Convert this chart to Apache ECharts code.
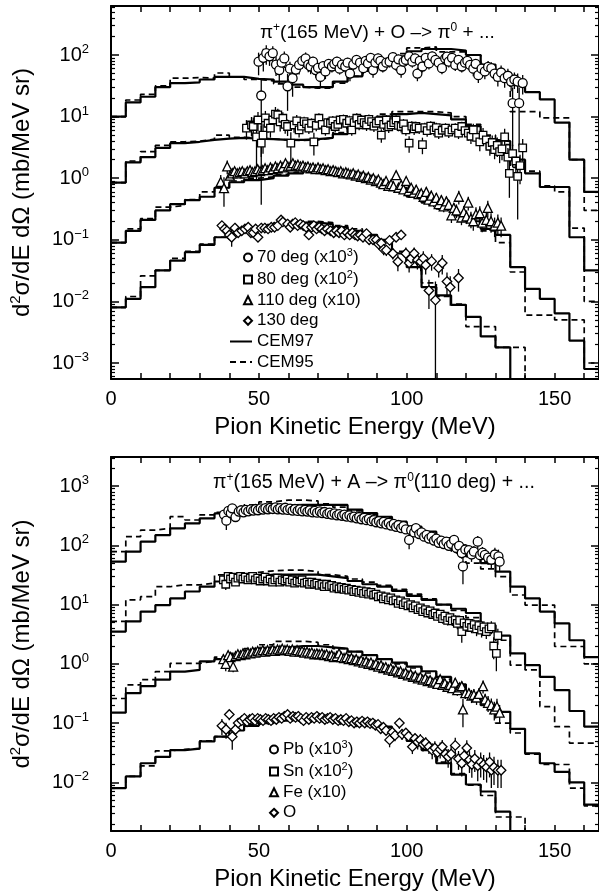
<!DOCTYPE html>
<html><head><meta charset="utf-8">
<script src="https://cdn.jsdelivr.net/npm/echarts@6/dist/echarts.min.js"></script>
<style>html,body{margin:0;padding:0;background:#fff}#c{width:599px;height:894px}</style>
</head><body><div id="c"></div><script>
const FONT = '"Liberation Sans", Arial, Helvetica, sans-serif';

// ---------- axes ----------
const binEdges = [0,5,10,15,20,25,30,35,40,45,50,55,60,65,70,75,80,85,90,95,100,105,110,115,120,125,130,135,140,145,150,155,160,165];
const xTickValues = [0,10,20,30,40,50,60,70,80,90,100,110,120,130,140,150,160];
const xLabelValues = [0,50,100,150];
const topDecades = [-3,-2,-1,0,1,2];
const bottomDecades = [-2,-1,0,1,2,3];
const topRange = [5.5e-4, 624];
const bottomRange = [1.51e-3, 3090];
const xTitle = 'Pion Kinetic Energy (MeV)';
const topNote = ['π','+','(165 MeV) + O –> π','0',' + ...'];
const bottomNote = ['π','+','(165 MeV) + A –> π','0','(110 deg) + ...'];

// ---------- top panel: model histograms (5 MeV bins) ----------
const t70_97 = [10,17,21,30,35,36,40,44,44,41,40,37,33,30,30,37,45,55,74,95,115,125,125,118,100,70,50,40,25,19,8,2,0.6];
const t70_95 = [10,18.6,23,31.5,42,43,42,51,44,40,38,34,30,29,29,35,45,58,80,105,130,135,112,112,100,55,47,12,12,9.5,9.5,2,0.3];
const t80_97 = [0.85,1.8,2.2,3.1,3.7,3.9,4.2,4.4,4.5,4.4,4.3,4.2,4.2,4.3,4.5,5.2,6.5,8.5,10,11,11.5,11,10.5,9,7,4.2,4,2,1.2,0.72,0.72,0.11,0.032];
const t80_95 = [0.85,1.9,2.7,3.4,3.9,4.0,4.3,5.0,4.6,4.5,4.3,4.2,4.1,4.2,4.5,5.5,7,9,11,12,12,12,11.5,10,7.5,5,3.5,1.5,1.3,0.75,0.6,0.155,0.01];
const t110_97 = [0.09,0.14,0.21,0.3,0.38,0.44,0.5,0.7,0.86,0.93,1.0,1.1,1.2,1.3,1.3,1.2,1.1,0.95,0.8,0.65,0.5,0.4,0.32,0.25,0.2,0.15,0.12,0.036,0.016,0.011,0.0064,0.0023,0.0008];
const t110_95 = [0.09,0.15,0.22,0.34,0.36,0.45,0.6,0.7,0.9,1.0,1.05,1.15,1.25,1.35,1.35,1.25,1.15,1.0,0.85,0.7,0.55,0.42,0.33,0.26,0.19,0.14,0.09,0.03,0.006,0.006,0.005,0.005,0.001];
const t130_97 = [0.008,0.011,0.017,0.032,0.046,0.063,0.083,0.11,0.13,0.15,0.16,0.18,0.19,0.19,0.18,0.16,0.14,0.12,0.1,0.06,0.036,0.017,0.0125,0.0088,0.0056,0.0027,0.0018,1e-6,1e-6,1e-6,1e-6,1e-6,1e-6];
const t130_95 = [0.008,0.012,0.026,0.032,0.05,0.065,0.085,0.11,0.135,0.16,0.17,0.19,0.2,0.2,0.19,0.17,0.15,0.12,0.095,0.065,0.04,0.02,0.012,0.009,0.0039,0.0039,0.0018,0.0018,1e-6,1e-6,1e-6,1e-6,1e-6];

// ---------- top panel: data [E, value, relative error] ----------
const d70 = [[49.9,78,0.4],[50.8,22,0.9],[51.5,90,0.4],[52.5,107,0.35],[53.6,95,0.3],[54.7,107,0.3],[55.8,70,0.35],[56.9,57,0.4],[57.7,75,0.3],[58.6,88,0.3],[59.7,31,0.6],[60.5,60,0.3],[61.4,42,0.5],[62.5,58,0.3],[63.6,69,0.3],[64.7,80,0.25],[65.8,88,0.25],[66.7,70,0.25],[67.5,65,0.25],[68.3,78,0.2],[69.2,57,0.25],[70.0,62,0.2],[70.8,44,0.3],[71.7,66,0.2],[72.5,54,0.25],[73.6,72,0.2],[74.7,65,0.2],[75.5,72,0.2],[76.4,78,0.2],[77.3,60,0.2],[78.1,70,0.2],[79.2,65,0.2],[80.0,75,0.2],[80.8,50,0.25],[81.9,70,0.2],[83.0,83,0.2],[84.2,75,0.2],[85.3,61,0.2],[86.1,80,0.2],[86.9,73,0.2],[87.8,90,0.2],[88.6,57,0.25],[89.4,75,0.2],[90.3,88,0.2],[91.1,80,0.2],[91.9,65,0.2],[93.1,75,0.2],[94.2,78,0.2],[95.3,92,0.2],[96.4,69,0.2],[97.2,85,0.2],[98.1,57,0.25],[98.9,78,0.2],[99.7,83,0.2],[100.8,95,0.2],[101.9,78,0.2],[102.8,88,0.2],[103.6,50,0.25],[104.4,80,0.2],[105.3,65,0.2],[106.4,90,0.2],[107.5,73,0.2],[108.6,95,0.2],[109.7,83,0.2],[110.8,75,0.2],[111.9,61,0.2],[113.0,88,0.2],[113.6,94,0.2],[114.2,78,0.2],[115.3,90,0.2],[116.4,69,0.2],[117.5,83,0.2],[118.6,65,0.2],[119.7,75,0.2],[120.5,80,0.2],[121.4,69,0.2],[122.5,60,0.25],[123.3,72,0.2],[124.2,47,0.25],[125.3,60,0.25],[126.4,54,0.25],[127.5,64,0.25],[128.6,61,0.25],[129.7,50,0.25],[130.8,44,0.3],[131.9,52,0.3],[133.1,42,0.3],[134.2,46,0.3],[135.3,37,0.3],[135.8,16.5,0.8],[136.4,40,0.3],[137.5,37,0.35],[138.0,16.5,0.8],[139.2,35,0.35]];
const d80 = [[45.8,6.5,0.35],[47.5,7.3,0.35],[48.1,6.9,0.4],[49.2,4.7,0.8],[49.7,8.8,0.35],[50.8,3.7,0.9],[51.4,5.0,0.5],[52.2,9.5,0.3],[53.1,7.8,0.3],[53.9,6.5,0.3],[54.7,8.8,0.3],[55.6,11,0.3],[56.4,10.7,0.25],[57.2,8.2,0.3],[58.1,9.4,0.25],[58.9,7.5,0.3],[59.7,6.9,0.3],[60.8,3.7,0.5],[61.9,7.3,0.25],[62.8,8.5,0.25],[63.6,6.1,0.25],[64.4,7.0,0.25],[65.3,8.3,0.2],[66.1,7.6,0.2],[66.9,6.5,0.2],[67.8,7.8,0.2],[68.6,3.9,0.4],[69.4,7.2,0.2],[70.3,9.4,0.2],[71.4,7.5,0.2],[72.5,6.1,0.2],[73.3,8.0,0.2],[74.2,7.8,0.2],[75.0,8.5,0.2],[75.8,6.9,0.2],[76.7,7.5,0.2],[77.5,8.8,0.2],[78.6,9.0,0.2],[79.7,7.8,0.2],[80.6,8.6,0.2],[81.4,6.1,0.2],[82.2,8.0,0.2],[83.1,9.4,0.2],[83.9,7.5,0.2],[84.7,8.8,0.2],[85.6,8.0,0.2],[86.4,7.3,0.2],[87.2,9.0,0.2],[88.1,8.3,0.2],[88.9,7.0,0.2],[89.7,7.8,0.2],[90.6,8.5,0.2],[91.4,5.0,0.25],[92.2,7.5,0.2],[93.1,8.8,0.2],[93.9,6.8,0.2],[94.7,7.3,0.2],[95.6,8.0,0.2],[96.4,8.8,0.2],[97.2,7.2,0.2],[98.1,6.9,0.2],[98.9,7.6,0.2],[99.7,6.1,0.2],[100.8,3.7,0.3],[101.7,7.0,0.2],[102.5,6.3,0.2],[103.1,6.9,0.2],[104.2,6.5,0.2],[105.3,3.5,0.3],[106.1,6.6,0.2],[106.9,5.9,0.2],[108.1,7.0,0.2],[109.2,6.1,0.2],[110.0,6.6,0.2],[110.8,5.4,0.2],[112.0,6.0,0.2],[113.1,6.5,0.2],[114.2,5.6,0.2],[115.3,6.1,0.2],[116.4,6.5,0.2],[117.5,5.4,0.2],[118.6,6.9,0.2],[119.7,5.9,0.2],[120.8,5.4,0.25],[121.7,4.8,0.25],[122.5,6.1,0.25],[123.6,4.6,0.25],[124.7,3.9,0.3],[125.8,5.0,0.3],[126.9,4.2,0.3],[128.1,3.3,0.3],[128.9,3.8,0.3],[129.7,2.9,0.3],[130.6,3.4,0.35],[131.4,2.7,0.35],[132.2,3.0,0.35],[133.1,4.7,0.35],[134.2,2.2,0.4],[134.7,1.2,0.6],[135.8,2.5,0.4],[136.9,1.9,0.5],[137.5,1.07,0.8],[138.3,1.6,0.5],[139.2,3.1,0.4]];
const d110 = [[37.1,0.87,0.3],[38.2,0.69,0.5],[39.3,1.55,0.25],[40.2,1.1,0.2],[41.0,1.2,0.2],[41.8,1.3,0.15],[42.7,1.2,0.15],[43.5,1.25,0.15],[44.4,1.3,0.15],[45.3,1.2,0.15],[46.1,1.3,0.15],[47.0,1.35,0.15],[47.8,1.25,0.15],[48.7,1.3,0.15],[49.6,1.4,0.15],[50.4,1.3,0.15],[51.3,1.35,0.12],[52.1,1.45,0.12],[53.0,1.35,0.12],[53.9,1.5,0.12],[54.7,1.4,0.12],[55.6,1.55,0.12],[56.4,1.45,0.12],[57.3,1.6,0.12],[58.1,1.5,0.12],[59.0,1.75,0.12],[59.8,1.55,0.12],[60.7,1.6,0.12],[61.5,1.75,0.12],[62.4,1.6,0.12],[63.2,1.65,0.12],[64.1,1.55,0.12],[64.9,1.6,0.12],[65.8,1.5,0.12],[66.6,1.55,0.12],[67.5,1.45,0.12],[68.3,1.5,0.12],[69.2,1.4,0.12],[70.0,1.5,0.12],[70.9,1.4,0.12],[71.7,1.45,0.12],[72.6,1.35,0.12],[73.4,1.4,0.12],[74.3,1.3,0.12],[75.1,1.35,0.12],[76.0,1.3,0.12],[76.8,1.25,0.12],[77.7,1.3,0.12],[78.5,1.2,0.12],[79.4,1.25,0.12],[80.2,1.2,0.12],[81.1,1.15,0.12],[81.9,1.2,0.12],[82.8,1.1,0.12],[83.6,1.15,0.12],[84.5,1.05,0.12],[85.3,1.1,0.12],[86.2,1.0,0.12],[87.0,1.05,0.12],[87.9,0.95,0.15],[88.7,1.0,0.15],[89.6,0.9,0.15],[90.4,0.95,0.15],[91.3,0.85,0.15],[92.1,0.8,0.15],[93.0,0.9,0.15],[93.8,0.75,0.15],[94.7,0.8,0.15],[95.5,0.74,0.15],[96.4,1.12,0.15],[97.2,0.7,0.15],[98.1,0.78,0.15],[98.9,0.66,0.15],[99.8,0.9,0.15],[100.6,0.62,0.15],[101.5,0.7,0.15],[102.3,0.58,0.18],[103.2,0.65,0.18],[104.0,0.55,0.18],[104.9,0.57,0.18],[105.7,0.5,0.18],[106.6,0.6,0.18],[107.4,0.45,0.2],[108.3,0.52,0.2],[109.1,0.42,0.2],[110.0,0.48,0.2],[110.8,0.38,0.2],[111.7,0.44,0.2],[112.5,0.35,0.2],[113.4,0.42,0.2],[114.2,0.37,0.2],[115.1,0.25,0.25],[115.9,0.33,0.2],[116.8,0.3,0.25],[117.6,0.5,0.25],[118.5,0.23,0.25],[119.3,0.28,0.25],[120.2,0.24,0.25],[120.8,0.4,0.25],[121.7,0.22,0.3],[122.5,0.2,0.3],[123.4,0.26,0.3],[124.7,0.27,0.3],[125.5,0.19,0.3],[126.9,0.21,0.3],[127.4,0.33,0.3],[128.5,0.2,0.35],[129.7,0.17,0.35],[130.8,0.19,0.35],[131.9,0.17,0.35]];
const d130 = [[37.5,0.17,0.15],[38.4,0.15,0.15],[39.2,0.14,0.15],[40.0,0.12,0.15],[40.8,0.11,0.3],[41.9,0.155,0.15],[43.0,0.13,0.15],[44.2,0.14,0.15],[45.3,0.15,0.12],[46.4,0.16,0.12],[47.3,0.13,0.12],[48.1,0.13,0.12],[48.9,0.15,0.12],[49.7,0.11,0.15],[50.8,0.155,0.12],[52.0,0.155,0.12],[53.1,0.15,0.12],[54.2,0.16,0.12],[55.3,0.16,0.12],[56.4,0.17,0.12],[57.5,0.21,0.12],[58.1,0.195,0.12],[59.7,0.18,0.12],[60.6,0.16,0.12],[61.4,0.18,0.12],[62.3,0.19,0.12],[63.1,0.17,0.12],[64.0,0.18,0.12],[65.0,0.17,0.12],[66.0,0.16,0.12],[66.9,0.12,0.12],[67.8,0.16,0.12],[68.6,0.17,0.12],[69.5,0.15,0.12],[70.4,0.16,0.12],[71.3,0.15,0.12],[72.2,0.14,0.12],[73.1,0.15,0.12],[74.2,0.14,0.12],[75.3,0.13,0.12],[76.2,0.14,0.12],[77.1,0.13,0.12],[78.0,0.14,0.12],[78.9,0.12,0.12],[79.8,0.13,0.12],[80.7,0.12,0.12],[81.6,0.13,0.12],[82.5,0.12,0.12],[83.4,0.115,0.12],[84.3,0.12,0.12],[85.2,0.11,0.12],[86.4,0.126,0.12],[87.3,0.1,0.15],[88.6,0.1,0.15],[89.7,0.1,0.15],[90.5,0.085,0.15],[91.4,0.088,0.15],[92.2,0.07,0.2],[93.1,0.068,0.2],[94.2,0.098,0.15],[95.3,0.06,0.2],[96.4,0.11,0.15],[97.0,0.044,0.3],[98.1,0.12,0.15],[99.7,0.06,0.25],[100.8,0.042,0.3],[101.5,0.05,0.25],[102.5,0.06,0.25],[103.6,0.047,0.3],[104.7,0.044,0.3],[105.6,0.05,0.3],[106.4,0.039,0.3],[107.5,0.015,0.5],[108.4,0.045,0.3],[109.7,0.0105,1.0],[110.8,0.035,0.3],[112.0,0.042,0.35],[113.6,0.021,0.4],[114.7,0.017,0.5],[117.5,0.024,0.4]];

// ---------- bottom panel: model histograms ----------
const pb_97 = [53,78,115,149,193,235,285,345,390,420,450,470,480,480,480,480,400,350,303,250,206,170,132,100,65,50,36,20,12.7,7.6,4.8,2.5,1.3];
const pb_95 = [78,140,181,193,304,267,325,360,420,480,540,580,580,560,500,440,380,330,290,240,190,150,110,80,50,40,29.5,14.5,9.8,9.8,1.96,1.96,1.0];
const sn_97 = [3.5,5.2,7.6,9.8,12.7,16.6,20,24.5,28,30,32,32,32,32,30,28,25,22,20,17,14,12,10,8.5,7.2,4.5,3,1.5,0.95,0.6,0.36,0.16,0.087];
const sn_95 = [5.2,12,13.6,20,21.5,21.5,23,31.6,33,35,37,38,38,36,32,30,27,24,21,18,15,12.5,10,8,6,4.5,2.5,0.95,0.79,0.19,0.087,0.046,0.046];
const fe_97 = [0.15,0.32,0.42,0.54,0.74,0.79,1.1,1.2,1.4,1.6,1.8,1.9,2.0,2.0,1.9,1.8,1.6,1.4,1.2,1.05,0.9,0.75,0.6,0.45,0.3,0.2,0.155,0.08,0.031,0.021,0.015,0.01,0.0042];
const fe_95 = [0.26,0.44,0.54,0.74,1.02,1.02,1.1,1.3,1.5,1.8,2.1,2.4,2.4,2.3,2.1,1.8,1.6,1.4,1.2,1.0,0.85,0.7,0.55,0.42,0.3,0.2,0.1,0.068,0.03,0.02,0.02,0.008,0.004];
const o_97 = [0.008,0.0126,0.021,0.027,0.035,0.037,0.049,0.059,0.075,0.09,0.1,0.11,0.12,0.12,0.12,0.115,0.105,0.095,0.087,0.065,0.05,0.035,0.021,0.0135,0.0092,0.007,0.0032,1e-6,1e-6,1e-6,1e-6,1e-6,1e-6];
const o_95 = [0.008,0.0126,0.019,0.034,0.036,0.037,0.05,0.059,0.08,0.095,0.11,0.12,0.125,0.125,0.12,0.115,0.105,0.095,0.085,0.065,0.05,0.035,0.022,0.014,0.009,0.006,0.0026,0.0026,1e-6,1e-6,1e-6,1e-6,1e-6];

// ---------- bottom panel: data [E, value, relative error] ----------
const dPb = [[38.2,330,.15],[39.0,260,.3],[39.7,380,.12],[40.5,350,.1],[41.0,420,.1],[42.1,300,.15],[43.2,370,.1],[44.0,390,.08],[44.8,360,.08],[45.6,395,.08],[46.4,375,.08],[47.3,405,.08],[48.1,385,.08],[48.9,410,.08],[49.7,390,.08],[50.6,420,.08],[51.4,400,.08],[52.2,425,.08],[53.1,405,.08],[53.9,430,.08],[54.7,410,.08],[55.6,435,.08],[56.4,405,.08],[57.2,425,.08],[58.1,400,.08],[58.9,430,.08],[59.7,395,.08],[60.6,415,.08],[61.4,385,.08],[62.2,410,.08],[63.1,380,.08],[63.9,405,.08],[64.7,375,.08],[65.6,395,.08],[66.4,370,.08],[67.2,390,.08],[68.1,360,.08],[68.9,380,.08],[69.7,355,.08],[70.6,375,.08],[71.4,350,.08],[72.2,365,.08],[73.1,340,.08],[73.9,355,.08],[74.7,330,.08],[75.6,345,.08],[76.4,320,.08],[77.2,335,.08],[78.1,315,.08],[78.9,330,.08],[79.7,305,.08],[80.6,320,.08],[81.4,295,.08],[82.2,305,.08],[83.1,285,.08],[83.9,300,.08],[84.7,275,.08],[85.6,290,.08],[86.4,265,.08],[87.2,280,.08],[88.1,255,.1],[88.9,265,.1],[89.7,245,.1],[90.6,255,.1],[91.4,235,.1],[92.2,248,.1],[93.1,225,.1],[93.9,240,.1],[94.7,215,.12],[95.6,230,.1],[96.4,205,.12],[97.2,220,.1],[98.1,195,.12],[98.9,210,.12],[99.7,185,.12],[100.8,123,.3],[101.5,180,.12],[102.5,165,.12],[103.1,195,.12],[104.2,155,.12],[105.0,165,.12],[105.9,140,.15],[106.7,150,.12],[107.5,130,.15],[108.4,140,.12],[109.2,120,.15],[110.0,130,.15],[110.8,110,.15],[111.7,120,.15],[112.5,105,.15],[113.4,115,.15],[114.2,98,.18],[115.0,106,.18],[116.0,123,.18],[116.8,90,.2],[117.7,98,.2],[118.6,74,.2],[119.0,44,.5],[119.8,85,.2],[121.0,83,.2],[121.9,70,.25],[122.7,78,.25],[124.0,115,.25],[124.8,68,.25],[125.6,75,.25],[126.4,69,.25],[127.5,62,.25],[128.6,57,.3],[129.8,70,.3],[131.0,65,.3],[131.4,53,.3]];
const dSn = [[38.0,26,.15],[38.8,22,.2],[39.6,30,.12],[40.4,27,.12],[41.3,29,.1],[42.1,24,.12],[42.9,28,.1],[43.8,30,.1],[44.6,27,.1],[45.4,29,.1],[46.3,26,.1],[47.1,28,.1],[47.9,30,.1],[48.8,26,.1],[49.6,28,.1],[50.4,25,.1],[51.3,27,.1],[52.1,29,.1],[52.9,25,.1],[53.8,27,.1],[54.6,24,.1],[55.4,26,.1],[56.3,28,.1],[57.1,24,.1],[57.9,26,.1],[58.8,25,.1],[59.6,27,.1],[60.4,24,.1],[61.3,26,.1],[62.1,23,.1],[62.9,25,.1],[63.8,24,.1],[64.6,26,.1],[65.4,23,.1],[66.3,24,.1],[67.1,22,.1],[67.9,24,.1],[68.8,22,.1],[69.6,23,.1],[70.4,21,.1],[71.3,22,.1],[72.1,20,.1],[72.9,22,.1],[73.8,20,.1],[74.6,21,.1],[75.4,19,.1],[76.3,20,.1],[77.1,18.5,.1],[77.9,19.5,.1],[78.8,18,.1],[79.6,19,.1],[80.4,17.5,.1],[81.3,18,.1],[82.1,16.5,.1],[82.9,17.5,.1],[83.8,16,.1],[84.6,17,.1],[85.4,15.5,.1],[86.3,16.5,.1],[87.1,15,.1],[87.9,16,.1],[88.8,14.5,.12],[89.6,15,.12],[90.4,13.5,.12],[91.3,14,.12],[92.1,12.5,.12],[92.9,13.5,.12],[93.8,12,.12],[94.6,13,.12],[95.4,11.5,.12],[96.3,12,.12],[97.1,10.5,.12],[97.9,11.5,.12],[98.8,10,.12],[99.6,10.8,.12],[100.4,9.5,.15],[101.3,10,.15],[102.1,8.8,.15],[102.9,9.5,.15],[103.8,8.2,.15],[104.6,8.8,.15],[105.4,7.6,.15],[106.3,8.2,.15],[107.1,7.2,.15],[107.9,7.8,.15],[108.8,6.8,.15],[109.6,7.2,.15],[110.4,6.3,.15],[111.3,6.9,.15],[112.1,5.8,.18],[112.9,6.4,.18],[113.8,5.4,.18],[114.6,6.0,.18],[115.4,5.3,.18],[116.4,5.5,.2],[117.1,4.8,.2],[117.9,5.4,.2],[118.6,3.5,.35],[119.4,4.9,.2],[120.3,4.3,.2],[121.1,4.8,.2],[121.9,4.1,.2],[122.8,4.6,.2],[123.6,3.9,.25],[124.4,4.4,.25],[125.3,3.7,.25],[126.1,4.2,.25],[126.9,3.5,.25],[127.8,3.9,.25],[128.6,4.2,.25],[129.4,2.0,.4],[130.3,1.5,.5],[130.8,3.0,.3]];
const dFe = [[38.0,1.2,.2],[38.8,1.0,.25],[39.6,1.4,.15],[40.4,1.3,.12],[41.3,0.9,.2],[42.1,1.35,.1],[42.9,1.45,.1],[43.8,1.4,.1],[44.6,1.5,.1],[45.4,1.45,.1],[46.3,1.55,.1],[47.1,1.5,.1],[47.9,1.6,.1],[48.8,1.55,.1],[49.6,1.65,.1],[50.4,1.6,.1],[51.3,1.7,.1],[52.1,1.6,.1],[52.9,1.7,.1],[53.8,1.65,.1],[54.6,1.75,.1],[55.4,1.65,.1],[56.3,1.75,.1],[57.1,1.7,.1],[57.9,1.8,.1],[58.8,1.7,.1],[59.6,1.75,.1],[60.4,1.65,.1],[61.3,1.75,.1],[62.1,1.6,.1],[62.9,1.7,.1],[63.8,1.6,.1],[64.6,1.65,.1],[65.4,1.55,.1],[66.3,1.6,.1],[67.1,1.5,.1],[67.9,1.55,.1],[68.8,1.45,.1],[69.6,1.5,.1],[70.4,1.45,.1],[71.3,1.5,.1],[72.1,1.4,.1],[72.9,1.45,.1],[73.8,1.35,.1],[74.6,1.4,.1],[75.4,1.3,.1],[76.3,1.35,.1],[77.1,1.5,.1],[77.9,1.3,.1],[78.8,1.25,.1],[79.6,1.3,.1],[80.4,1.2,.1],[81.3,1.25,.1],[82.1,1.15,.1],[82.9,1.2,.1],[83.8,1.1,.1],[84.6,1.15,.1],[85.4,1.05,.1],[86.3,1.1,.1],[87.1,1.0,.1],[87.9,1.05,.1],[88.8,0.95,.12],[89.6,1.0,.12],[90.4,0.9,.12],[91.3,0.95,.12],[92.1,0.85,.12],[92.9,0.88,.12],[93.8,0.8,.12],[94.6,0.84,.12],[95.4,0.76,.12],[96.3,0.8,.12],[97.1,0.72,.12],[97.9,0.75,.12],[98.8,0.68,.12],[99.6,0.71,.12],[100.4,0.64,.15],[101.3,0.67,.15],[102.1,0.6,.15],[102.9,0.63,.15],[103.8,0.57,.15],[104.6,0.6,.15],[105.4,0.54,.15],[106.3,0.57,.15],[107.1,0.51,.15],[107.9,0.53,.15],[108.8,0.48,.15],[109.6,0.5,.15],[110.4,0.46,.15],[111.3,0.55,.15],[112.1,0.44,.18],[112.9,0.47,.18],[113.8,0.41,.18],[114.6,0.44,.18],[115.4,0.39,.18],[116.4,0.48,.2],[117.1,0.36,.2],[117.9,0.4,.2],[118.6,0.42,.2],[119.0,0.17,.5],[119.8,0.32,.2],[121.0,0.32,.2],[121.9,0.29,.25],[122.7,0.3,.25],[123.6,0.27,.25],[124.4,0.31,.25],[125.8,0.42,.25],[126.5,0.25,.25],[127.5,0.22,.3],[128.6,0.2,.3],[129.6,0.17,.35],[130.5,0.19,.35],[131.4,0.15,.35]];
const dO = [[37.5,0.09,.3],[38.9,0.078,.3],[40.0,0.14,.2],[41.0,0.059,.4],[42.1,0.078,.25],[43.0,0.1,.15],[44.2,0.11,.15],[45.1,0.12,.12],[46.0,0.105,.12],[46.9,0.115,.12],[47.8,0.12,.12],[48.7,0.11,.12],[49.6,0.12,.12],[50.5,0.115,.12],[51.4,0.11,.12],[52.3,0.12,.12],[53.2,0.115,.12],[54.1,0.11,.12],[55.0,0.12,.12],[55.9,0.115,.12],[56.8,0.125,.12],[57.7,0.12,.12],[58.6,0.13,.12],[59.7,0.14,.12],[60.6,0.12,.12],[61.5,0.13,.12],[62.4,0.125,.12],[63.3,0.13,.12],[64.2,0.12,.12],[65.1,0.11,.12],[66.0,0.125,.12],[66.9,0.115,.12],[67.8,0.125,.12],[68.7,0.12,.12],[69.6,0.13,.12],[70.5,0.12,.12],[71.4,0.125,.12],[72.3,0.115,.12],[73.2,0.12,.12],[74.1,0.125,.12],[75.0,0.115,.12],[75.9,0.12,.12],[76.8,0.11,.12],[77.7,0.115,.12],[78.6,0.11,.12],[79.5,0.12,.12],[80.4,0.105,.12],[81.3,0.11,.12],[82.2,0.1,.12],[83.1,0.105,.12],[84.0,0.1,.12],[84.9,0.108,.12],[85.8,0.1,.12],[86.7,0.105,.12],[87.6,0.098,.12],[88.5,0.1,.12],[89.4,0.092,.15],[90.3,0.095,.15],[91.2,0.08,.15],[92.1,0.085,.15],[93.0,0.075,.15],[94.2,0.052,.25],[95.1,0.07,.15],[96.0,0.062,.2],[97.5,0.1,.2],[98.4,0.065,.2],[99.7,0.068,.2],[100.6,0.06,.2],[101.9,0.04,.25],[102.8,0.055,.2],[103.7,0.048,.25],[104.6,0.052,.25],[105.5,0.044,.25],[106.4,0.046,.25],[107.5,0.04,.25],[108.6,0.035,.3],[109.5,0.038,.3],[110.4,0.032,.3],[111.3,0.036,.3],[112.0,0.04,.3],[113.1,0.03,.3],[114.0,0.027,.35],[115.0,0.03,.35],[116.4,0.042,.35],[117.5,0.025,.35],[118.6,0.021,.4],[119.4,0.028,.35],[120.3,0.038,.35],[121.2,0.024,.4],[122.0,0.02,.4],[123.0,0.025,.4],[124.0,0.019,.45],[125.0,0.022,.45],[126.0,0.02,.45],[127.0,0.018,.45],[128.0,0.022,.45],[128.6,0.016,.5],[129.5,0.018,.5],[130.8,0.016,.5],[131.9,0.016,.5]];

const topNames = ['70 deg (x10^3)','80 deg (x10^2)','110 deg (x10)','130 deg'];
const bottomNames = ['Pb (x10^3)','Sn (x10^2)','Fe (x10)','O'];
const modelNames = ['CEM97','CEM95'];

// ---------- build ----------
const L = v => Math.log10(v);
const BLACK = '#000';
function minorTicks(range) {
  const out = [];
  const lo = L(range[0]), hi = L(range[1]);
  for (let d = Math.floor(lo); d <= Math.ceil(hi); d++) {
    for (let k = 2; k <= 9; k++) { const t = d + L(k); if (t > lo && t < hi) out.push(t); }
  }
  return out;
}
const richSup = {
  b: {fontSize: 20, fontFamily: FONT, color: BLACK},
  s: {fontSize: 13, fontFamily: FONT, color: BLACK, padding: [0,0,11,0]}
};
function yLabel(v) {
  const n = Math.round(v);
  return '{b|10}{s|' + (n < 0 ? '−' + (-n) : n) + '}';
}
function yAxes(gi, range, decades) {
  const mn = L(range[0]), mx = L(range[1]);
  const base = {type: 'value', gridIndex: gi, min: mn, max: mx, splitLine: {show: false}};
  const minor = minorTicks(range);
  return [
    Object.assign({}, base, {position: 'left',
      axisLine: {show: true, onZero: false, lineStyle: {color: BLACK, width: 2}},
      axisTick: {show: true, inside: true, length: 8, customValues: decades, lineStyle: {color: BLACK, width: 1.5}},
      axisLabel: {show: true, customValues: decades, formatter: yLabel, rich: richSup, margin: 22},
      name: '{a|d}{s|2}{a|σ/dE dΩ (mb/MeV sr)}', nameLocation: 'middle', nameGap: 75, nameRotate: 90,
      nameTextStyle: {rich: {a: {fontSize: 24, fontFamily: FONT, color: BLACK}, s: {fontSize: 15, fontFamily: FONT, color: BLACK, padding: [0,0,13,0]}}}
    }),
    Object.assign({}, base, {position: 'left', axisLine: {show: false, onZero: false},
      axisTick: {show: true, inside: true, length: 4, customValues: minor, lineStyle: {color: BLACK, width: 1.2}},
      axisLabel: {show: false}}),
    Object.assign({}, base, {position: 'right',
      axisLine: {show: true, onZero: false, lineStyle: {color: BLACK, width: 2}},
      axisTick: {show: true, inside: true, length: 8, customValues: decades, lineStyle: {color: BLACK, width: 1.5}},
      axisLabel: {show: false}}),
    Object.assign({}, base, {position: 'right', axisLine: {show: false, onZero: false},
      axisTick: {show: true, inside: true, length: 4, customValues: minor, lineStyle: {color: BLACK, width: 1.2}},
      axisLabel: {show: false}})
  ];
}
function xAxes(gi) {
  const base = {type: 'value', gridIndex: gi, min: 0, max: 165, splitLine: {show: false},
    axisLine: {show: true, onZero: false, lineStyle: {color: BLACK, width: 2}},
    axisTick: {show: true, inside: true, length: 6, customValues: xTickValues, lineStyle: {color: BLACK, width: 1.5}}};
  return [
    Object.assign({}, base, {position: 'bottom',
      axisLabel: {show: true, customValues: xLabelValues, fontSize: 20, fontFamily: FONT, color: BLACK, margin: 10},
      name: xTitle, nameLocation: 'middle', nameGap: 36,
      nameTextStyle: {fontSize: 24, fontFamily: FONT, color: BLACK}}),
    Object.assign({}, base, {position: 'top', axisLabel: {show: false}})
  ];
}
function hist(name, vals, xi, yi, dashed) {
  return {type: 'line', name, xAxisIndex: xi, yAxisIndex: yi, step: 'end', symbol: 'none',
    silent: true, clip: true, z: 2,
    data: binEdges.map((e, i) => [e, L(vals[Math.min(i, vals.length - 1)])]),
    itemStyle: {color: BLACK, opacity: 0},
    lineStyle: {color: BLACK, width: dashed ? 1.7 : 2.2, type: dashed ? [6, 4] : 'solid'}};
}
function pts(name, arr, xi, yi, symbol, size) {
  return {type: 'scatter', name, xAxisIndex: xi, yAxisIndex: yi, symbol, symbolSize: size, z: 4,
    data: arr.map(p => [p[0], L(p[1])]),
    itemStyle: {color: '#fff', borderColor: BLACK, borderWidth: 1.3, opacity: 1}};
}
function errs(arr, xi, yi) {
  return {type: 'custom', xAxisIndex: xi, yAxisIndex: yi, clip: true, silent: true, z: 3,
    data: arr.map(p => [p[0], L(p[1]), p[2] >= 1 ? -20 : L(p[1] * (1 - p[2])), L(p[1] * (1 + p[2]))]),
    encode: {x: 0, y: 1},
    renderItem: (params, api) => {
      const a = api.coord([api.value(0), api.value(2)]);
      const b = api.coord([api.value(0), api.value(3)]);
      return {type: 'line', shape: {x1: a[0], y1: a[1], x2: b[0], y2: b[1]}, style: {stroke: BLACK, lineWidth: 1.3}};
    }};
}
const legendRich = {
  t: {fontSize: 17, fontFamily: FONT, color: BLACK, lineHeight: 21},
  s: {fontSize: 11, fontFamily: FONT, color: BLACK, padding: [0,0,9,0]}
};
const legendFmt = name => '{t|' + name.replace(/\^(\d+)/, '}{s|$1}{t|') + '}';
function noteText(parts, x, y, fs) {
  return {type: 'text', x, y, silent: true,
    style: {text: '{t|' + parts[0] + '}{s|' + parts[1] + '}{t|' + parts[2] + '}{s|' + parts[3] + '}{t|' + parts[4] + '}',
      verticalAlign: 'middle',
      rich: {t: {fontSize: fs, fontFamily: FONT, fill: BLACK}, s: {fontSize: 12, fontFamily: FONT, fill: BLACK, padding: [0,0,10,0]}}}};
}

const syms = ['circle', 'rect', 'triangle', 'diamond'];
const symSizes = [9, 7.5, 9, 9.5];
const topData = [d70, d80, d110, d130];
const bottomData = [dPb, dSn, dFe, dO];
const topModels = [[t70_97, t70_95], [t80_97, t80_95], [t110_97, t110_95], [t130_97, t130_95]];
const bottomModels = [[pb_97, pb_95], [sn_97, sn_95], [fe_97, fe_95], [o_97, o_95]];

const series = [];
function panel(models, data, names, xi, yi) {
  models.forEach(m => { series.push(hist(modelNames[0], m[0], xi, yi, false)); series.push(hist(modelNames[1], m[1], xi, yi, true)); });
  data.forEach((d, i) => series.push(errs(d, xi, yi)));
  data.forEach((d, i) => series.push(pts(names[i], d, xi, yi, syms[i], symSizes[i])));
}
panel(topModels, topData, topNames, 0, 0);
panel(bottomModels, bottomData, bottomNames, 2, 4);

const legendBase = {orient: 'vertical', padding: 0, itemGap: 3.6, selectedMode: false,
  formatter: legendFmt, textStyle: {rich: legendRich, fontSize: 17, fontFamily: FONT, color: BLACK}};
const option = {
  animation: false,
  backgroundColor: '#fff',
  grid: [
    {left: 107.5, top: 6, width: 495, height: 373},
    {left: 107.5, top: 457, width: 495, height: 374}
  ],
  xAxis: [].concat(xAxes(0), xAxes(1)),
  yAxis: [].concat(yAxes(0, topRange, topDecades), yAxes(1, bottomRange, bottomDecades)),
  legend: [
    Object.assign({}, legendBase, {left: 243, top: 247.5, itemWidth: 8, itemHeight: 8, data: topNames}),
    Object.assign({}, legendBase, {left: 229, top: 333, itemWidth: 22, itemHeight: 10, data: modelNames,
      itemStyle: {opacity: 0}}),
    Object.assign({}, legendBase, {left: 269, top: 739.5, itemWidth: 8, itemHeight: 8, data: bottomNames})
  ],
  graphic: [noteText(topNote, 260, 33, 19), noteText(bottomNote, 213, 483, 19.6)],
  series
};
const chart = echarts.init(document.getElementById('c'), null, {renderer: 'canvas'});
chart.setOption(option);
</script></body></html>
